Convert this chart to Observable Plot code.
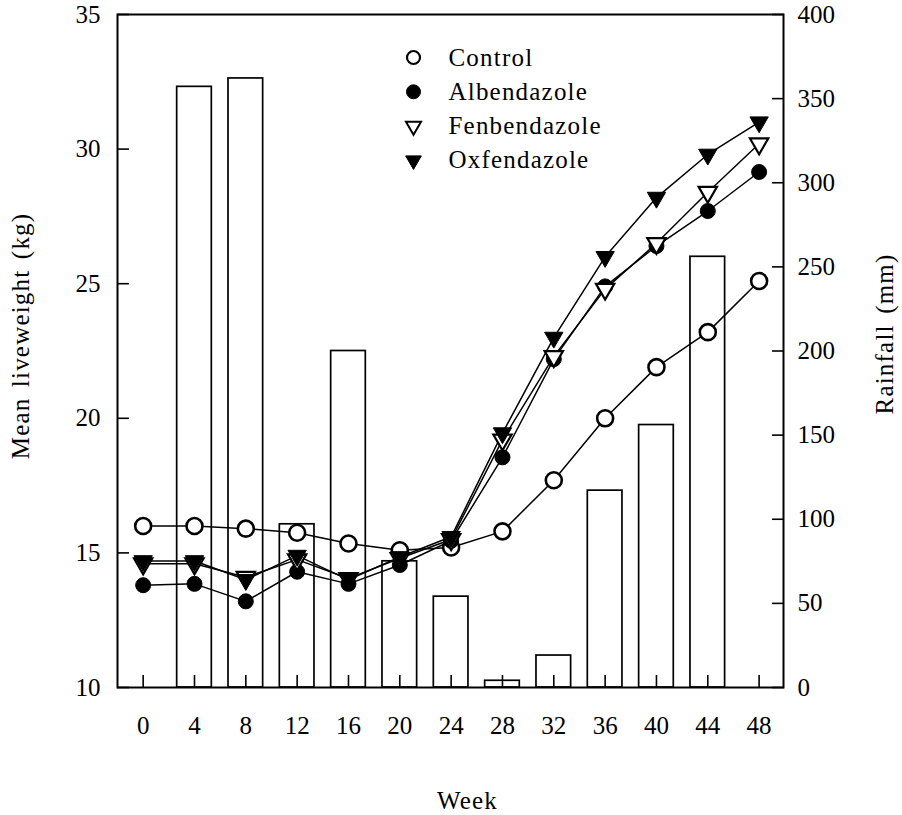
<!DOCTYPE html>
<html>
<head>
<meta charset="utf-8">
<script src="https://cdn.jsdelivr.net/npm/d3@7"></script>
<script src="https://cdn.jsdelivr.net/npm/@observablehq/plot@0.6"></script>
<style>
  html, body { margin: 0; padding: 0; background: #fff; }
  #chart svg, #chart svg text {
    font-family: "Liberation Serif", "Times New Roman", "DejaVu Serif", serif !important;
  }
  #chart svg g.title-text text { letter-spacing: 1.2px; word-spacing: 3px; }
</style>
</head>
<body>
<div id="chart"></div>
<script>
// ---- Data ----
const weeks = [0, 4, 8, 12, 16, 20, 24, 28, 32, 36, 40, 44, 48];
const control      = [16.0, 16.0, 15.9, 15.75, 15.35, 15.1, 15.2, 15.8, 17.7, 20.0, 21.9, 23.2, 25.1];
const albendazole  = [13.8, 13.85, 13.2, 14.3, 13.85, 14.55, 15.45, 18.55, 22.2, 24.9, 26.4, 27.7, 29.15];
const fenbendazole = [14.6, 14.6, 14.1, 14.75, 14.05, 14.8, 15.5, 19.2, 22.3, 24.8, 26.5, 28.4, 30.2];
const oxfendazole  = [14.7, 14.7, 14.0, 14.9, 14.0, 14.85, 15.6, 19.45, 23.0, 26.0, 28.2, 29.8, 31.0];

const rainWeeks = [4, 8, 12, 16, 20, 24, 28, 32, 36, 40, 44];
const rainfall  = [357, 362, 97, 200, 75, 54, 4, 19, 117, 156, 256];

const kgTicks = [10, 15, 20, 25, 30, 35];
const mmTicks = [0, 50, 100, 150, 200, 250, 300, 350, 400];

const seriesNames = ["Control", "Albendazole", "Fenbendazole", "Oxfendazole"];
const seriesValues = [control, albendazole, fenbendazole, oxfendazole];

// ---- Helpers ----
const kgMin = 10, kgMax = 35, mmMax = 400;
const mmToKg = mm => kgMin + mm * (kgMax - kgMin) / mmMax;
const kgToMm = kg => (kg - kgMin) * mmMax / (kgMax - kgMin);

// downward-pointing triangle symbol (same area convention as d3 symbols)
const triangleDown = {
  draw(context, size) {
    const s = Math.sqrt(size * 4 / Math.sqrt(3));
    const h = s * Math.sqrt(3) / 2;
    context.moveTo(-s / 2, -h / 3);
    context.lineTo(s / 2, -h / 3);
    context.lineTo(0, 2 * h / 3);
    context.closePath();
  }
};

const styles = {
  Control:      {symbol: "circle", fill: "white", stroke: "black", strokeWidth: 2.6, r: 8},
  Albendazole:  {symbol: "circle", fill: "black", stroke: "black", strokeWidth: 1, r: 7.5},
  Fenbendazole: {symbol: triangleDown, fill: "white", stroke: "black", strokeWidth: 2.2, r: 6.8},
  Oxfendazole:  {symbol: triangleDown, fill: "black", stroke: "black", strokeWidth: 1, r: 6.8}
};
const legendStyles = {
  Control:      {symbol: "circle", fill: "white", stroke: "black", strokeWidth: 2.2, r: 6.5},
  Albendazole:  {symbol: "circle", fill: "black", stroke: "black", strokeWidth: 1, r: 7},
  Fenbendazole: {symbol: triangleDown, fill: "white", stroke: "black", strokeWidth: 2, r: 5.6},
  Oxfendazole:  {symbol: triangleDown, fill: "black", stroke: "black", strokeWidth: 1, r: 5.8}
};

const rows = seriesNames.flatMap((name, i) =>
  weeks.map((w, j) => ({series: name, week: w, kg: seriesValues[i][j]})));
const rainRows = rainWeeks.map((w, i) => ({week: w, mm: rainfall[i]}));

const barHalf = 1.35; // half bar width, in weeks

const marks = [
  Plot.rect(rainRows, {
    x1: d => d.week - barHalf, x2: d => d.week + barHalf,
    y1: kgMin, y2: d => mmToKg(d.mm),
    fill: "white", stroke: "black", strokeWidth: 1.7
  }),
  Plot.line(rows, {x: "week", y: "kg", z: "series", stroke: "black", strokeWidth: 1.5}),
  ...seriesNames.map(name => Plot.dot(rows.filter(d => d.series === name), {
    x: "week", y: "kg", ...styles[name]
  })),
  Plot.frame({stroke: "black", strokeWidth: 2}),
  Plot.axisX({ticks: weeks, tickSize: -12, tickPadding: 41, tickFormat: d => String(d), label: null, strokeWidth: 1.6}),
  Plot.axisY({ticks: kgTicks, tickSize: -12, tickPadding: 29, tickFormat: d => String(d), label: null, strokeWidth: 1.6}),
  Plot.axisY({anchor: "right", ticks: mmTicks.map(mmToKg), tickSize: -12, tickPadding: 26,
              tickFormat: d => String(Math.round(kgToMm(d))), label: null, strokeWidth: 1.6}),
  Plot.text(["Week"], {text: d => d, frameAnchor: "bottom", dx: 17, dy: 113,
                       textAnchor: "middle", lineAnchor: "middle", className: "title-text"}),
  Plot.text(["Mean liveweight (kg)"], {text: d => d, frameAnchor: "left", dx: -97, dy: -15, rotate: -90,
                                       textAnchor: "middle", lineAnchor: "middle", className: "title-text"}),
  Plot.text(["Rainfall (mm)"], {text: d => d, frameAnchor: "right", dx: 101, dy: -17, rotate: -90,
                                textAnchor: "middle", lineAnchor: "middle", className: "title-text"}),
  ...seriesNames.flatMap((name, i) => [
    Plot.dot([name], {frameAnchor: "top-left", dx: 296, dy: 43 + i * 34.3, ...legendStyles[name]}),
    Plot.text([name], {text: d => d, frameAnchor: "top-left", dx: 331, dy: 43 + i * 34.3,
                       textAnchor: "start", lineAnchor: "middle", className: "title-text"})
  ])
];

const chart = Plot.plot({
  width: 902,
  height: 815,
  marginTop: 14,
  marginRight: 119,
  marginBottom: 128,
  marginLeft: 117,
  x: {domain: [-2, 49.9]},
  y: {domain: [kgMin, kgMax]},
  style: {
    fontFamily: "Liberation Serif, Times New Roman, serif",
    fontSize: "25px",
    color: "black",
    background: "white",
    overflow: "visible"
  },
  marks
});
document.getElementById("chart").appendChild(chart);
</script>
</body>
</html>
